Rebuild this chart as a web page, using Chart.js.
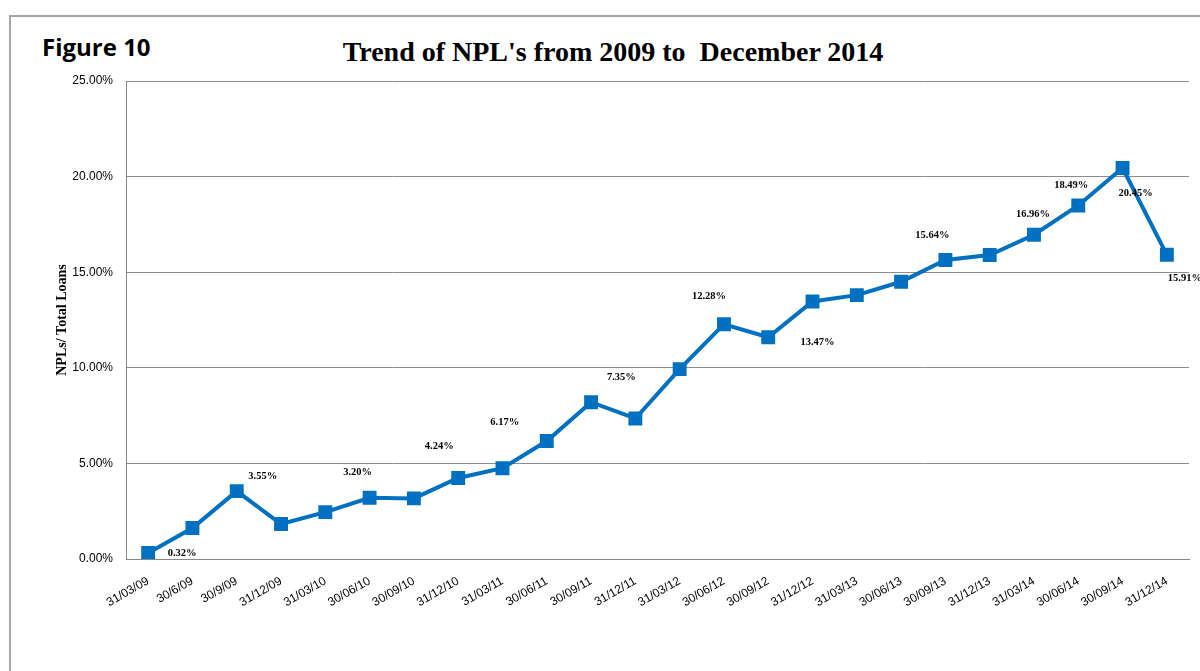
<!DOCTYPE html>
<html lang="en">
<head>
    <meta charset="UTF-8">
    <title>Trend of NPL's from 2009 to December 2014</title>
    <script src="https://cdn.jsdelivr.net/npm/chart.js"></script>
    <style>
        html, body {
            margin: 0;
            padding: 0;
            background: #ffffff;
        }
        .wrap {
            position: relative;
            width: 1200px;
            height: 671px;
            overflow: hidden;
        }
        .frame {
            position: absolute;
            left: 9px;
            top: 15px;
            width: 1300px;
            height: 800px;
            border-left: 2px solid #a6a6a6;
            border-top: 2px solid #a6a6a6;
        }
        .fig-label {
            position: absolute;
            left: 42px;
            top: 30px;
            font-family: 'Open Sans', sans-serif;
            font-weight: bold;
            font-size: 24px;
            color: #000;
        }
        .title {
            position: absolute;
            left: 0;
            width: 1226px;
            top: 36px;
            text-align: center;
            font-family: 'Liberation Serif', serif;
            font-weight: bold;
            font-size: 28px;
            color: #000;
            white-space: pre;
        }
        canvas {
            position: absolute;
            left: 0;
            top: 0;
        }
    </style>
</head>
<body>
<div class="wrap">
    <div class="frame"></div>
    <div class="fig-label">Figure 10</div>
    <div class="title">Trend of NPL's from 2009 to  December 2014</div>
    <canvas id="nplChart" width="1200" height="671"></canvas>
</div>
<script>
    // quarter-end dates
    const quarters = ['31/03/09', '30/6/09', '30/9/09', '31/12/09', '31/03/10', '30/06/10',
        '30/09/10', '31/12/10', '31/03/11', '30/06/11', '30/09/11', '31/12/11',
        '31/03/12', '30/06/12', '30/09/12', '31/12/12', '31/03/13', '30/06/13',
        '30/09/13', '31/12/13', '31/03/14', '30/06/14', '30/09/14', '31/12/14'];

    // NPLs / total loans, in percent
    const nplRatio = [0.32, 1.62, 3.55, 1.83, 2.45, 3.20,
        3.17, 4.24, 4.75, 6.17, 8.20, 7.35,
        9.93, 12.28, 11.60, 13.47, 13.80, 14.50,
        15.64, 15.90, 16.96, 18.49, 20.45, 15.91];

    // y-axis ticks
    const yTicks = [0, 5, 10, 15, 20, 25];

    // which points carry a value label
    const labelled = [0, 2, 5, 7, 9, 11, 13, 15, 18, 20, 21, 22, 23];

    // label offsets from their point, in px (as placed in the original)
    const labelOffsets = {
        0: [34, 0], 2: [26, -15], 5: [-12, -26], 7: [-19, -32], 9: [-42, -19],
        11: [-14, -41], 13: [-15, -28], 15: [5, 41], 18: [-13, -25],
        20: [-1, -20], 21: [-7, -20], 22: [13, 25], 23: [18, 23]
    };

    const valueLabels = {
        id: 'valueLabels',
        afterDatasetsDraw(chart) {
            const ctx = chart.ctx;
            const meta = chart.getDatasetMeta(0);
            ctx.save();
            ctx.font = 'bold 10.5px "Liberation Serif", serif';
            ctx.fillStyle = '#000';
            ctx.textAlign = 'center';
            ctx.textBaseline = 'middle';
            labelled.forEach(i => {
                const pt = meta.data[i];
                const off = labelOffsets[i] || [0, -15];
                ctx.fillText(nplRatio[i].toFixed(2) + '%', pt.x + off[0], pt.y + off[1]);
            });
            ctx.restore();
        }
    };

    new Chart(document.getElementById('nplChart'), {
        type: 'line',
        data: {
            labels: quarters,
            datasets: [{
                data: nplRatio,
                borderColor: '#0070C0',
                backgroundColor: '#0070C0',
                borderWidth: 4,
                pointStyle: 'rect',
                pointRadius: 7,
                pointHoverRadius: 7,
                tension: 0,
                fill: false
            }]
        },
        options: {
            responsive: false,
            animation: false,
            events: [],
            layout: {
                padding: { left: 54, top: 81, right: 11, bottom: 52 }
            },
            plugins: {
                legend: { display: false },
                tooltip: { enabled: false }
            },
            scales: {
                x: {
                    offset: true,
                    grid: { display: false, drawTicks: false },
                    border: { color: '#888888', width: 1 },
                    afterFit(scale) { scale.height = 60; },
                    ticks: {
                        autoSkip: false,
                        maxRotation: 30,
                        minRotation: 30,
                        padding: 15,
                        color: '#000',
                        font: { family: '"Liberation Sans", sans-serif', size: 12 }
                    }
                },
                y: {
                    min: 0,
                    max: 25,
                    afterFit(scale) { scale.width = 72; },
                    afterBuildTicks(scale) {
                        scale.ticks = yTicks.map(v => ({ value: v }));
                    },
                    grid: { color: '#8c8c8c', lineWidth: 1, drawTicks: false },
                    border: { color: '#888888', width: 1 },
                    ticks: {
                        padding: 13,
                        color: '#000',
                        font: { family: '"Liberation Sans", sans-serif', size: 12 },
                        callback: v => v.toFixed(2) + '%'
                    },
                    title: {
                        display: true,
                        text: 'NPLs/ Total Loans',
                        color: '#000',
                        padding: { top: 0, bottom: 0 },
                        font: { family: '"Liberation Serif", serif', size: 14, weight: 'bold' }
                    }
                }
            }
        },
        plugins: [valueLabels]
    });
</script>
</body>
</html>
